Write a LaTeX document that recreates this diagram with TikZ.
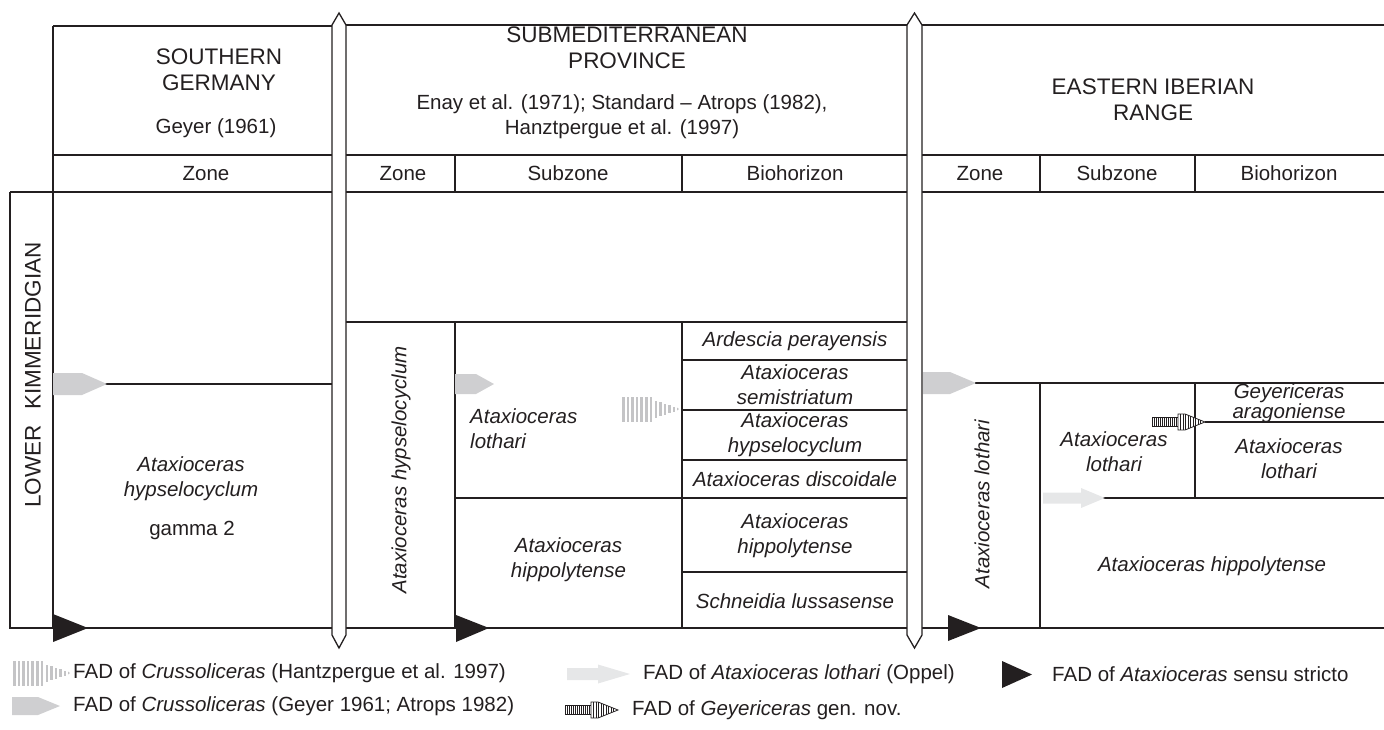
\documentclass[tikz,border=0pt]{standalone}
\usepackage{fontspec}
\setmainfont{Liberation Sans}
\definecolor{ink}{HTML}{231F20}
\definecolor{crus}{HTML}{CFCFD1}
\definecolor{lotharicol}{HTML}{E6E7E8}
\definecolor{hatchcol}{HTML}{C4C4C6}
\begin{document}
\begin{tikzpicture}[x=1pt,y=-1pt,
  ln/.style={draw=ink, line width=1.3pt},
  txt/.style={font=\fontsize{20.5}{25}\selectfont, inner sep=0pt, align=center, text=ink},
  hdr/.style={font=\fontsize{22.5}{26}\selectfont, inner sep=0pt, align=center, text=ink},
  sp/.style={txt, font=\fontsize{20.5}{25}\selectfont\itshape},
  sptight/.style={txt, font=\fontsize{20.5}{18}\selectfont\itshape},
  leg/.style={txt, anchor=west},
  blacktri/.style={fill=ink, draw=none},
  pics/cruss/.style n args={3}{code={
    \fill[crus] (0,-#3) -- (#1,-#3) -- (#2,0) -- (#1,#3) -- (0,#3) -- cycle;}},
  pics/lothariarrow/.style n args={4}{code={
    \fill[lotharicol] (0,-#3) -- (#1,-#3) -- (#1,-#4) -- (#2,0) -- (#1,#4) -- (#1,#3) -- (0,#3) -- cycle;}},
  pics/hatcharrow/.style={code={
    \foreach \i in {0,...,6} {\fill[hatchcol] (\i*4.6,-12.5) rectangle ++(2.6,25);}
    \foreach \i/\h in {0/8.5,1/7,2/5.5,3/4,4/2.5} {\fill[hatchcol] (33+\i*4.4,-\h) rectangle ++(2.4,2*\h);}
    \fill[hatchcol] (55,-1.5) -- (57,0) -- (55,1.5) -- cycle;}},
  pics/geyarrow/.style={code={
    \draw[ink, line width=0.8pt, fill=white] (0,-4.5) rectangle (26,4.5);
    \foreach \i in {1,...,12} {\draw[ink, line width=0.9pt] (\i*2,-4.5) -- (\i*2,4.5);}
    \draw[ink, line width=0.8pt, fill=white] (26,-8) -- (33,-8) -- (53,0) -- (33,8) -- (26,8) -- cycle;
    \foreach \x/\h in {28.5/8,31/8,33.5/7.8,36/6.6,38.5/5.6,41/4.6,43.5/3.6,46/2.6,48.5/1.6} {\draw[ink, line width=0.6pt] (\x,-\h) -- (\x,\h);}}}
]
\useasboundingbox (0,0) rectangle (1384,729);

% ---------- left block (Southern Germany)
\draw[ln] (53,26) -- (332,26);
\draw[ln] (53,26) -- (53,628);
\draw[ln] (53,155) -- (332,155);
\draw[ln] (10,192) -- (332,192);
\draw[ln] (10,192) -- (10,628) -- (332,628);
\draw[ln] (105,384) -- (332,384);

% ---------- middle block
\draw[ln] (346,25) -- (907,25);
\draw[ln] (346,155) -- (907,155);
\draw[ln] (346,192) -- (907,192);
\draw[ln] (455,155) -- (455,192);
\draw[ln] (682,155) -- (682,192);
\draw[ln] (346,322) -- (907,322);
\draw[ln] (455,322) -- (455,628);
\draw[ln] (682,322) -- (682,628);
\draw[ln] (682,360) -- (907,360);
\draw[ln] (682,410) -- (907,410);
\draw[ln] (682,460) -- (907,460);
\draw[ln] (455,498) -- (907,498);
\draw[ln] (682,572) -- (907,572);
\draw[ln] (346,628) -- (907,628);

% ---------- right block
\draw[ln] (922,25) -- (1384,25);
\draw[ln] (922,155) -- (1384,155);
\draw[ln] (922,192) -- (1384,192);
\draw[ln] (1040,155) -- (1040,192);
\draw[ln] (1195,155) -- (1195,192);
\draw[ln] (975,383) -- (1384,383);
\draw[ln] (1040,383) -- (1040,628);
\draw[ln] (1195,383) -- (1195,498);
\draw[ln] (1205,422) -- (1384,422);
\draw[ln] (1103,498) -- (1384,498);
\draw[ln] (922,628) -- (1384,628);

% ---------- pillars
\draw[ln, fill=white] (332,25) -- (339,13) -- (346,25) -- (346,635) -- (339,648) -- (332,635) -- cycle;
\draw[ln, fill=white] (907,25) -- (914.5,13) -- (922,25) -- (922,635) -- (914.5,648) -- (907,635) -- cycle;

% ---------- FAD markers
\pic at (53,384) {cruss={29}{54}{11}};
\pic at (455,384) {cruss={21}{39}{10}};
\pic at (923,383) {cruss={27}{53}{11}};
\pic at (622,409) {hatcharrow};
\pic at (1152,422) {geyarrow};
\pic at (1043,498) {lothariarrow={38}{62}{5.5}{10}};
\fill[blacktri] (53,614) -- (88,628) -- (53,642) -- cycle;
\fill[blacktri] (456,615) -- (489,628) -- (456,642) -- cycle;
\fill[blacktri] (948,615) -- (981,628) -- (948,641) -- cycle;

% ---------- headers
\node[hdr] (sghead) at (219,70) {SOUTHERN\\GERMANY};
\node[txt] (sgref) at (216,128) {Geyer (1961)};
\node[txt] (sgzone) at (206,173.5) {Zone};
\node[hdr] (smhead) at (627,48) {SUBMEDITERRANEAN\\PROVINCE};
\node[txt] (smref) at (622,117) {Enay et al. (1971); Standard -- Atrops (1982),\\Hanztpergue et al. (1997)};
\node[txt] (smzone) at (403,173.5) {Zone};
\node[txt] (smsub) at (568,173.5) {Subzone};
\node[txt] (smbio) at (795,173.5) {Biohorizon};
\node[hdr] (eihead) at (1153,100) {EASTERN IBERIAN\\RANGE};
\node[txt] (eizone) at (980,173.5) {Zone};
\node[txt] (eisub) at (1117,173.5) {Subzone};
\node[txt] (eibio) at (1289,173.5) {Biohorizon};

% ---------- stage
\node[hdr, rotate=90] (stage) at (33,375) {LOWER\hspace{9pt} KIMMERIDGIAN};

% ---------- southern Germany zone
\node[sp] (sgz1) at (191,479) {Ataxioceras\\hypselocyclum};
\node[txt] (sgz2) at (192,530) {gamma 2};

% ---------- submediterranean
\node[sp, rotate=90] (smz) at (401,470) {Ataxioceras hypselocyclum};
\node[sp, align=left, anchor=west] (sms1) at (470,429) {Ataxioceras\\lothari};
\node[sp] (sms2) at (568.5,560) {Ataxioceras\\hippolytense};
\node[sp] (smb1) at (795,341) {Ardescia perayensis};
\node[sp] (smb2) at (795,385) {Ataxioceras\\semistriatum};
\node[sp] (smb3) at (795,435) {Ataxioceras\\hypselocyclum};
\node[sp] (smb4) at (795,479) {Ataxioceras discoidale};
\node[sp] (smb5) at (795,536) {Ataxioceras\\hippolytense};
\node[sp] (smb6) at (795,601) {Schneidia lussasense};

% ---------- eastern Iberian range
\node[sp, rotate=90] (eiz) at (982,504) {Ataxioceras lothari};
\node[sp] (eis1) at (1114,452) {Ataxioceras\\lothari};
\node[sptight] (eib1) at (1289,403) {Geyericeras\\aragoniense};
\node[sp] (eib2) at (1289,459) {Ataxioceras\\lothari};
\node[sp] (eis2) at (1212,566) {Ataxioceras hippolytense};

% ---------- legend
\pic at (13,673) {hatcharrow};
\node[leg] (l1) at (73,673) {FAD of \textit{Crussoliceras} (Hantzpergue et al. 1997)};
\pic at (12,706) {cruss={26}{48}{9}};
\node[leg] (l2) at (73,706) {FAD of \textit{Crussoliceras} (Geyer 1961; Atrops 1982)};
\pic at (567,674) {lothariarrow={31}{63}{6}{9.5}};
\node[leg] (l3) at (643,674) {FAD of \textit{Ataxioceras lothari} (Oppel)};
\pic at (565,710) {geyarrow};
\node[leg] (l4) at (632,710) {FAD of \textit{Geyericeras} gen. nov.};
\fill[blacktri] (1002,661) -- (1032,674.5) -- (1002,688) -- cycle;
\node[leg] (l5) at (1052,674) {FAD of \textit{Ataxioceras} sensu stricto};
\end{tikzpicture}
\end{document}
